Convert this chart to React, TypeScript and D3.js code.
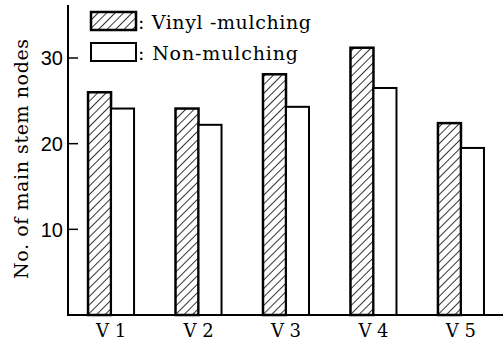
import React from "react";
import { scaleBand, scaleLinear } from "d3";

// data
const varieties = ["V1", "V2", "V3", "V4", "V5"];
const varietyLabels = ["V 1", "V 2", "V 3", "V 4", "V 5"];
const vinylMulching = [26.0, 24.1, 28.1, 31.2, 22.4];
const nonMulching = [24.1, 22.2, 24.3, 26.5, 19.5];
const yTicks = [10, 20, 30];
const seriesKeys = ["vinyl", "non"];

const W = 503;
const H = 343;

function App() {
  const x = scaleBand()
    .domain(varieties)
    .range([68, 504])
    .paddingInner(0.474)
    .paddingOuter(0.229);

  const xInner = scaleBand().domain(seriesKeys).range([0, x.bandwidth()]);

  const y = scaleLinear().domain([0, 30]).range([315, 58]);

  const serif = "DejaVu Serif, serif";
  const sans = "Liberation Sans, Arial, sans-serif";

  return (
    <svg
      width={W}
      height={H}
      style={{ position: "absolute", left: 0, top: 0, background: "#fff" }}
    >
      <defs>
        <pattern
          id="hatch"
          patternUnits="userSpaceOnUse"
          width={6}
          height={6}
          patternTransform="rotate(45)"
        >
          <line x1={0} y1={0} x2={0} y2={6} stroke="#000" strokeWidth={1.6} />
        </pattern>
      </defs>

      {/* bars */}
      {varieties.map((v, i) => (
        <g key={v} transform={`translate(${x(v)},0)`}>
          <rect
            x={xInner("vinyl")}
            y={y(vinylMulching[i])}
            width={xInner.bandwidth()}
            height={y(0) - y(vinylMulching[i])}
            fill="url(#hatch)"
            stroke="#000"
            strokeWidth={2.5}
          />
          <rect
            x={xInner("non")}
            y={y(nonMulching[i])}
            width={xInner.bandwidth()}
            height={y(0) - y(nonMulching[i])}
            fill="#fff"
            stroke="#000"
            strokeWidth={2}
          />
          <text
            x={x.bandwidth() / 2}
            y={337}
            textAnchor="middle"
            style={{ fontFamily: serif, fontSize: "18px" }}
          >
            {varietyLabels[i]}
          </text>
        </g>
      ))}

      {/* axes */}
      <line x1={68} y1={5} x2={68} y2={y(0)} stroke="#000" strokeWidth={2} />
      <line x1={67} y1={y(0)} x2={503} y2={y(0)} stroke="#000" strokeWidth={2} />
      {yTicks.map((t) => (
        <g key={t}>
          <line x1={68} y1={y(t)} x2={78} y2={y(t)} stroke="#000" strokeWidth={1.5} />
          <text
            x={63}
            y={y(t)}
            dy="0.36em"
            textAnchor="end"
            style={{ fontFamily: sans, fontSize: "20px" }}
          >
            {t}
          </text>
        </g>
      ))}

      {/* y axis title */}
      <text
        transform={`translate(28,159) rotate(-90)`}
        textAnchor="middle"
        style={{ fontFamily: serif, fontSize: "19px" }}
        textLength={240}
        lengthAdjust="spacing"
      >
        No. of main stem nodes
      </text>

      {/* legend */}
      <rect x={91} y={12} width={45} height={18} fill="url(#hatch)" stroke="#000" strokeWidth={2.5} />
      <text x={138} y={29} style={{ fontFamily: serif, fontSize: "19px" }} textLength={173} lengthAdjust="spacing">
        : Vinyl -mulching
      </text>
      <rect x={91} y={43} width={45} height={18} fill="#fff" stroke="#000" strokeWidth={2} />
      <text x={138} y={60} style={{ fontFamily: serif, fontSize: "19px" }} textLength={160} lengthAdjust="spacing">
        : Non-mulching
      </text>
    </svg>
  );
}

export default App;
